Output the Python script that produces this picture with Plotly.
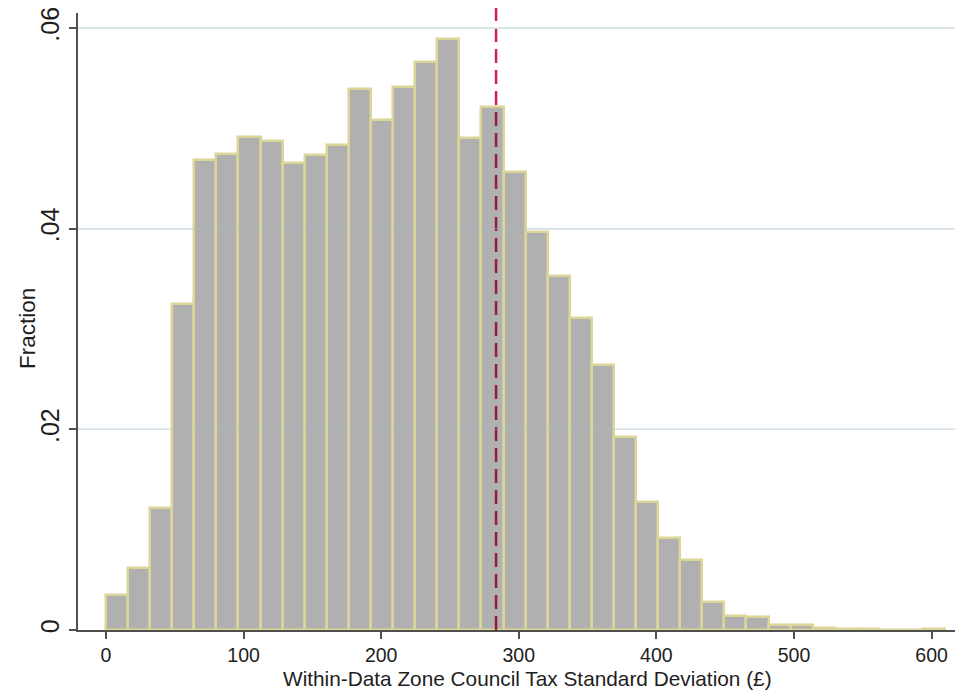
import plotly.graph_objects as go

# ---- data ----
bin_start = 0.0
bin_width = 16.05
fractions = [0.0035, 0.0062, 0.0122, 0.0325, 0.0468, 0.0474, 0.0491, 0.0487,
             0.0465, 0.0473, 0.0483, 0.0539, 0.0508, 0.0541, 0.0566, 0.0589,
             0.0490, 0.0521, 0.0457, 0.0397, 0.0353, 0.0311, 0.0264, 0.0192,
             0.0128, 0.0092, 0.0070, 0.0028, 0.0014, 0.0013, 0.0005, 0.0005,
             0.0002, 0.0001, 0.0001, 0.0, 0.0, 0.0001]
mean_value = 283.5
x_ticks = [0, 100, 200, 300, 400, 500, 600]
x_tick_labels = ["0", "100", "200", "300", "400", "500", "600"]
y_ticks = [0, 0.02, 0.04, 0.06]
y_tick_labels = ["0", ".02", ".04", ".06"]
x_title = "Within-Data Zone Council Tax Standard Deviation (£)"
y_title = "Fraction"

# ---- derived ----
centers = [bin_start + (i + 0.5) * bin_width for i in range(len(fractions))]
mean_bin = int((mean_value - bin_start) // bin_width)
mean_bar_height = fractions[mean_bin]

FONT = "Liberation Sans, Arial, sans-serif"
BAR_FILL = "rgb(176,176,176)"
BAR_EDGE = "rgb(219,213,152)"
AXIS_COL = "rgb(80,80,80)"
TEXT_COL = "rgb(30,30,30)"

fig = go.Figure()
fig.add_trace(go.Bar(
    x=centers, y=fractions, width=[bin_width] * len(fractions),
    marker=dict(color=BAR_FILL, line=dict(color=BAR_EDGE, width=2.5)),
    showlegend=False, hoverinfo="x+y",
))
# darker part of the reference line where it crosses the bars
fig.add_trace(go.Scatter(
    x=[mean_value, mean_value], y=[0, mean_bar_height], mode="lines",
    line=dict(color="rgb(150,28,62)", width=2.5, dash="14px,7px"),
    showlegend=False, hoverinfo="skip",
))

shapes = [dict(type="line", xref="x", yref="paper", x0=mean_value, x1=mean_value,
               y0=0, y1=1.008, layer="below",
               line=dict(color="rgb(208,32,78)", width=2.5, dash="14px,7px"))]
for yv in y_ticks[1:]:
    shapes.append(dict(type="line", xref="paper", yref="y", x0=0, x1=1, y0=yv, y1=yv,
                       layer="above", line=dict(color="rgba(170,195,205,0.3)", width=1.5)))

annotations = [
    dict(text=x_title, xref="paper", yref="paper", x=0.512, y=-0.078,
         xanchor="center", yanchor="middle", showarrow=False,
         font=dict(size=20.8, family=FONT, color=TEXT_COL)),
    dict(text=y_title, xref="paper", yref="paper", x=-0.057, y=0.488,
         xanchor="center", yanchor="middle", showarrow=False, textangle=-90,
         font=dict(size=22.5, family=FONT, color=TEXT_COL)),
]

fig.update_layout(
    width=955, height=693,
    margin=dict(l=78, r=0, t=13, b=63),
    paper_bgcolor="white", plot_bgcolor="white",
    bargap=0,
    shapes=shapes,
    annotations=annotations,
    font=dict(family=FONT, color=TEXT_COL),
    xaxis=dict(
        range=[-20.3, 617], tickmode="array", tickvals=x_ticks, ticktext=x_tick_labels,
        ticks="outside", ticklen=7, tickwidth=1.5, tickcolor=AXIS_COL,
        showline=True, linecolor=AXIS_COL, linewidth=1.5, showgrid=False, zeroline=False,
        tickfont=dict(size=19.5, family=FONT),
    ),
    yaxis=dict(
        range=[0, 0.0615], tickmode="array", tickvals=y_ticks, ticktext=y_tick_labels,
        tickangle=-90,
        ticks="outside", ticklen=7, tickwidth=1.5, tickcolor=AXIS_COL,
        showline=True, linecolor=AXIS_COL, linewidth=1.5,
        showgrid=True, gridcolor="rgb(234,240,242)", gridwidth=1.5, zeroline=False,
        tickfont=dict(size=25, family=FONT),
    ),
)

fig.write_html("out.html")
